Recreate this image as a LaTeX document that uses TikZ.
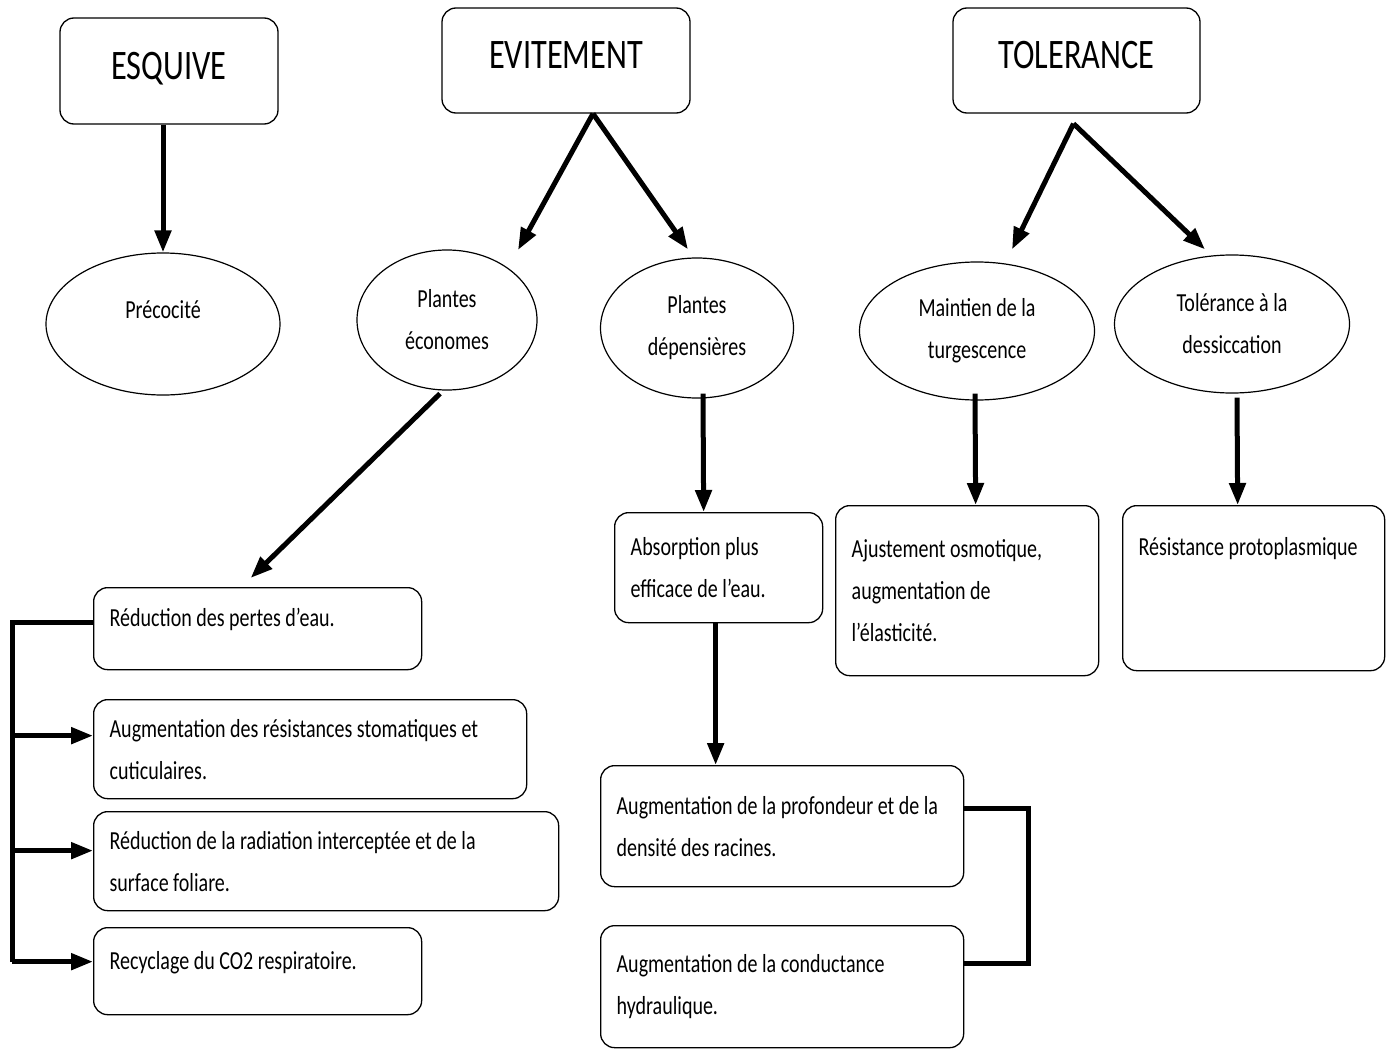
\documentclass[tikz,border=0pt]{standalone}
\usepackage{fontspec}
\setmainfont{Carlito}[FakeStretch=0.77]
\usepackage{tikz}
\usetikzlibrary{shapes.geometric,arrows.meta}
\newcommand{\txtfont}{\fontsize{26}{42}\selectfont}
\newcommand{\headfont}{\fontsize{42}{46}\selectfont}
\tikzset{
  head/.style={draw, rounded corners=14pt, line width=1.3pt, font=\headfont, inner sep=0pt,
    text height=30pt, text depth=14pt},
  oval/.style={draw, ellipse, line width=1.2pt, font=\txtfont, align=center, inner sep=0pt},
  rbox/.style={draw, rounded corners=14pt, line width=1.3pt, font=\txtfont, align=left,
    anchor=north west, inner xsep=16pt, inner ysep=0pt,
    execute at begin node={\spaceskip=0pt\xspaceskip=0pt}},
  arr/.style={line width=5pt, -{Triangle[length=22pt,width=16pt]}},
  bar/.style={line width=5pt}
}

\begin{document}
\begin{tikzpicture}[x=1pt,y=-1pt]
\useasboundingbox (0,0) rectangle (1389,1049);

\node[head, minimum width=218, minimum height=106] (esq) at (169,71) {ESQUIVE};
\node[head, minimum width=248, minimum height=105] (evit) at (566,60.5) {EVITEMENT};
\node[head, minimum width=247, minimum height=105] (tole) at (1076.5,60.5) {TOLERANCE};

\node[oval, minimum width=234, minimum height=142] (prec) at (163,324) {Précocité\\[-14pt]~};
\node[oval, minimum width=180, minimum height=140] (econ) at (447,320) {Plantes\\économes};
\node[oval, minimum width=193, minimum height=140] (depe) at (697,328) {Plantes\\dépensières};
\node[oval, minimum width=235, minimum height=138] (main) at (977,331) {Maintien de la\\turgescence};
\node[oval, minimum width=235, minimum height=138] (tdes) at (1232,324) {Tolérance à la\\dessiccation};

\node[rbox, text width=296, minimum height=82] (perte) at (93,587) {Réduction des pertes d’eau.\\[-20pt]~};
\node[rbox, text width=401, minimum height=99] (stoma) at (93,699) {Augmentation des résistances stomatiques~et\\cuticulaires.};
\node[rbox, text width=433, minimum height=99] (radia) at (93,811) {Réduction de la radiation interceptée et~de~la\\surface foliare.};
\node[rbox, text width=296, minimum height=87] (co2) at (93,927) {Recyclage du CO2 respiratoire.\\[-20pt]~};
\node[rbox, text width=176, minimum height=110] (absor) at (614,512) {Absorption plus\\efficace de l’eau.};
\node[rbox, text width=231, minimum height=170] (ajust) at (835,505) {Ajustement osmotique,\\augmentation de\\l’élasticité.};
\node[rbox, text width=230, minimum height=165] (proto) at (1122,505) {Résistance protoplasmique\\~\\~};
\node[rbox, text width=331, minimum height=121] (profo) at (600,765) {\mbox{Augmentation de la profondeur et de la}\\densité des racines.};
\node[rbox, text width=331, minimum height=122] (condu) at (600,925) {Augmentation de la conductance\\hydraulique.};

\draw[arr] (esq.south -| prec.north) -- (prec.north);
\draw[arr] ([shift={(27,0)}]evit.south) -- ([shift={(71,-70)}]econ.center);
\draw[arr] ([shift={(27,0)}]evit.south) -- ([shift={(-9,-8)}]depe.north);
\draw[arr] ([shift={(-3,10)}]tole.south) -- ([shift={(35,-12)}]main.north);
\draw[arr] ([shift={(-3,10)}]tole.south) -- ([shift={(-27,-5)}]tdes.north);
\draw[arr] ([shift={(-7,3)}]econ.south) -- ([shift={(-7,-9)}]perte.north);
\draw[arr] ([shift={(6,-5)}]depe.south) -- ([shift={(-15,0)}]absor.north);
\draw[arr] ([shift={(-2,-7)}]main.south) -- ([shift={(8.5,0)}]ajust.north);
\draw[arr] ([shift={(5,4)}]tdes.south) -- ([shift={(-16,0)}]proto.north);
\draw[arr] ([shift={(-3,0)}]absor.south) -- ([shift={(-66.5,0)}]profo.north);

\draw[bar] ([shift={(0,-6)}]perte.west) -| ([shift={(-81,-9.5)}]co2.west);
\draw[arr] ([shift={(-81,-13.5)}]stoma.west) -- ([shift={(0,-13.5)}]stoma.west);
\draw[arr] ([shift={(-81,-10.5)}]radia.west) -- ([shift={(0,-10.5)}]radia.west);
\draw[arr] ([shift={(-81,-9.5)}]co2.west) -- ([shift={(0,-9.5)}]co2.west);

\draw[bar] ([shift={(0,-17.5)}]profo.east) -| ([shift={(64,-23)}]condu.east) -- ([shift={(0,-23)}]condu.east);
\end{tikzpicture}
\end{document}
